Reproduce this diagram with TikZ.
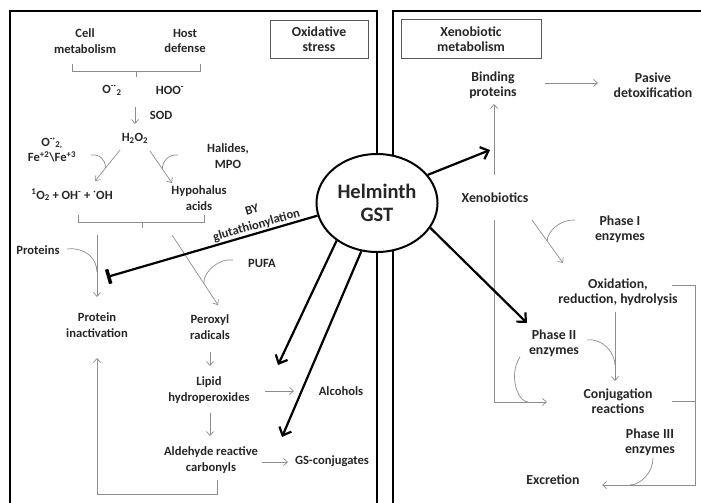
\documentclass[tikz,border=0pt]{standalone}
\usepackage{fontspec}
\setmainfont{Carlito}
\usepackage{xcolor}
\usepackage{tikz}
\usetikzlibrary{shapes,arrows.meta}
\definecolor{LineGray}{HTML}{8C8C8C}
\definecolor{TextDark}{HTML}{262626}

\tikzset{
  lbl/.style={align=center, inner sep=1pt, text=TextDark, font=\bfseries\fontsize{12.6}{15.5}\selectfont},
  lblr/.style={lbl, font=\bfseries\fontsize{13.8}{15.5}\selectfont},
  titlebox/.style={draw=black!65, line width=.7pt},
  gline/.style={draw=LineGray, line width=.7pt},
  garrow/.style={gline, -{Straight Barb[length=4pt,width=7pt]}},
  barrow/.style={line width=2.2pt, -{Straight Barb[length=7pt,width=13pt]}},
  inhibit/.style={line width=2.2pt, {Bar[width=15pt,line width=3.5pt]}-},
  panel/.style={line width=1.8pt},
}

\begin{document}
\begin{tikzpicture}[x=1pt,y=-1pt]
				\useasboundingbox (0,0) rectangle (701,503);
				\clip (0,0) rectangle (701,503);

				% panels
				\draw[panel] (10,510) |- (377,11) -- (377,510);
				\draw[panel] (393,510) |- (710,11);
				\node[lblr, titlebox, minimum width=98pt, minimum height=38pt] (oxbox) at (319,39) {Oxidative\\stress};
				\node[lblr, titlebox, minimum width=140pt, minimum height=39pt] (xenbox) at (471,39) {Xenobiotic\\metabolism};

				% oxidative stress labels
				\foreach \name/\x/\y/\txt in {
					cellmet/85/41/{Cell\\metabolism},
					hostdef/185/41/{Host\\defense},
					superox/112/90/{O\textsuperscript{-·}\textsubscript{2}},
					hoo/170/90/{HOO\textsuperscript{-}},
					sod/161/115/{SOD},
					h2o2/135/138/{H\textsubscript{2}O\textsubscript{2}},
					fe/52/150/{O\textsuperscript{-·}\textsubscript{2,}\\Fe\textsuperscript{+2}\textbackslash Fe\textsuperscript{+3}},
					halides/228/156/{Halides,\\MPO},
					singlet/72/195/{\textsuperscript{1}O\textsubscript{2} + OH\textsuperscript{-} + \textsuperscript{·}OH},
					hypo/199/198/{Hypohalus\\acids},
					proteins/38/250/{Proteins},
					pufa/262/263/{PUFA},
					protinact/97/325/{Protein\\inactivation},
					peroxyl/210/327/{Peroxyl\\radicals},
					lipid/209/390/{Lipid\\hydroperoxides},
					alcohols/341/391/{Alcohols},
					aldehyde/211/460/{Aldehyde reactive\\carbonyls},
					gsconj/332/461/{GS-conjugates}}
				{
					\node[lbl] (\name) at (\x,\y) {\txt};
				}

				% xenobiotic labels
				\foreach \name/\x/\y/\txt in {
					binding/493/85/{Binding\\proteins},
					pasive/653/85/{Pasive\\detoxification},
					xeno/495/198/{Xenobiotics},
					phase1/620/229/{Phase I\\enzymes},
					oxid/618/292/{Oxidation,\\reduction, hydrolysis},
					phase2/554/343/{Phase II\\enzymes},
					conj/618/401/{Conjugation\\reactions},
					phase3/650/442/{Phase III\\enzymes},
					excr/553/480/{Excretion}}
				{
					\node[lblr] (\name) at (\x,\y) {\txt};
				}

				% free ends of the connectors
				\foreach \name/\x/\y in {
					sodtop/135/107, sodtip/135/124, a1s/120/150, a1e/95/181, a2s/150/151, a2e/172/183,
					b1s/97/235, b1e/97/297, b2s/172/235, b2e/218/305, c1s/210/352, c1e/210/366,
					c2s/265/391, c2e/294/391, c3s/210/413, c3e/210/436, c4s/262/462, c4e/288/462,
					fbs/217/480, fbc/217/494, fbe/97/358,
					d1s/494/175, d1e/494/104, d2s/545/83, d2e/598/83, d3s/494/220, d3e/547/402,
					d4s/532/220, d4e/563/263, d5s/615/312, d5e/615/381, d6s/672/285, d6c/695/485,
					d6e/602/485, d7s/672/401,
					f1/91/155, f2/178/155, f3/67/249, f4/233/260, f5/575/220, f6/587/340, f7/520/357, f8/653/458,
					inhend/107/277, lipidtip/278/365, aldtip/282/437, bindtip/490/150, phtip/527/323}
				{
					\coordinate (\name) at (\x,\y);
				}

				% brackets
				\draw[gline] (72,64) -- (72,71) -- (200,71) -- (200,64) (136,71) -- (136,77);
				\draw[gline] (78,215) -- (78,222) -- (204,222) -- (204,215) (142,222) -- (142,228);

				% oxidative stress
				\draw[garrow] (sodtop) -- (sodtip);
				\draw[garrow] (a1s) -- coordinate[pos=.58] (j1) (a1e);
				\draw[garrow] (a2s) -- coordinate[pos=.56] (j2) (a2e);
				\draw[garrow] (b1s) -- coordinate[pos=.6] (j3) (b1e);
				\draw[garrow] (b2s) -- coordinate[pos=.69] (j4) (b2e);
				\draw[garrow] (c1s) -- (c1e);
				\draw[garrow] (c2s) -- (c2e);
				\draw[garrow] (c3s) -- (c3e);
				\draw[garrow] (c4s) -- (c4e);
				\draw[garrow] (fbs) -- (fbc) -| (fbe);
				\draw[gline] (f1) .. controls +(9,-1) and +(0,-8) .. (j1);
				\draw[gline] (f2) .. controls +(-9,-1) and +(0,-8) .. (j2);
				\draw[gline] (f3) .. controls +(18,-2) and +(0,-14) .. (j3);
				\draw[gline] (f4) .. controls +(-14,-2) and +(0,-12) .. (j4);

				% xenobiotic metabolism
				\draw[garrow] (d1s) -- (d1e);
				\draw[garrow] (d2s) -- (d2e);
				\draw[garrow] (d3s) |- coordinate[pos=.82] (j7) (d3e);
				\draw[garrow] (d4s) -- coordinate[pos=.49] (j5) (d4e);
				\draw[garrow] (d5s) -- coordinate[pos=.77] (j6) (d5e);
				\draw[garrow] (d6s) -| (d6c) -- coordinate[pos=.7] (j8) (d6e);
				\draw[gline] (d7s) -- (d7s -| d6c);
				\draw[gline] (f5) .. controls +(-14,-1) and +(0,-10) .. (j5);
				\draw[gline] (f6) .. controls +(16,-2) and +(0,-12) .. (j6);
				\draw[gline] (f7) .. controls +(-12,18) and +(-10,0) .. (j7);
				\draw[gline] (f8) .. controls +(0,15) and +(10,0) .. (j8);

				% helminth GST
				\node[draw, ellipse, line width=2pt, fill=white, minimum width=112pt, minimum height=98pt, align=center,
					text=TextDark, font=\bfseries\fontsize{20.5}{23}\selectfont] (gst) at (377,203) {Helminth\\GST};
				\draw[barrow] (gst.223) -- (lipidtip);
				\draw[barrow] (gst.252) -- (aldtip);
				\draw[barrow] (gst.29) -- (bindtip);
				\draw[barrow] (gst.335) -- (phtip);
				\draw[inhibit] (inhend) -- node[lbl, sloped, above, pos=.72] (bylbl) {BY\\glutathionylation} (gst.192);
\end{tikzpicture}
\end{document}
